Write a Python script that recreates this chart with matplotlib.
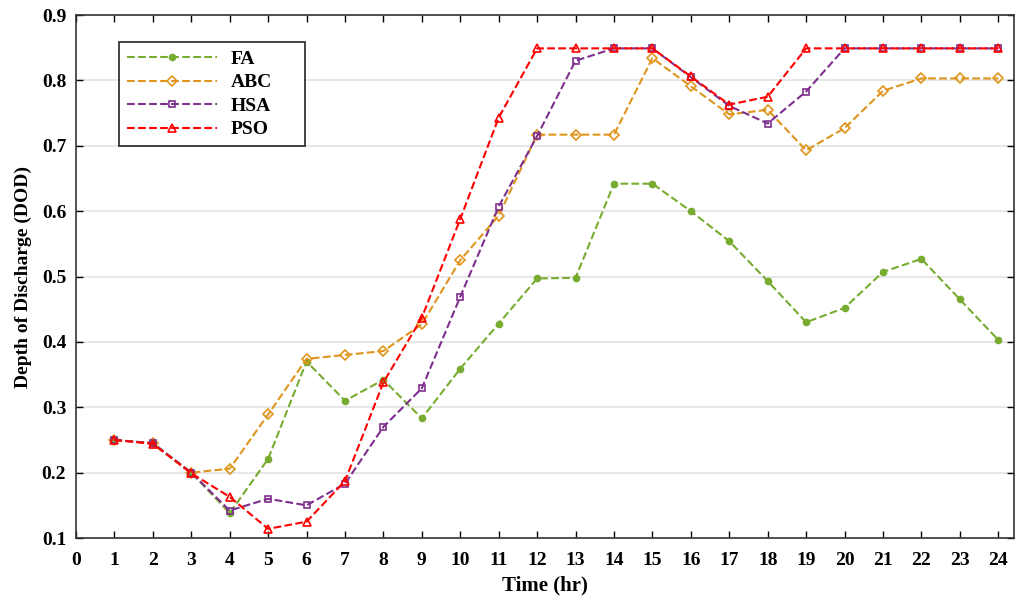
import numpy as np
import matplotlib
matplotlib.use("Agg")
import matplotlib.pyplot as plt

# hours 1..24
hours = list(range(1, 25))

fa = [0.250, 0.245, 0.200, 0.138, 0.221, 0.370, 0.310, 0.342, 0.283, 0.359,
      0.428, 0.497, 0.498, 0.642, 0.642, 0.600, 0.554, 0.493, 0.430, 0.452,
      0.507, 0.527, 0.465, 0.403]
abc = [0.250, 0.245, 0.200, 0.206, 0.289, 0.374, 0.380, 0.386, 0.427, 0.525,
       0.593, 0.717, 0.717, 0.717, 0.834, 0.791, 0.748, 0.755, 0.693, 0.727,
       0.784, 0.803, 0.803, 0.803]
hsa = [0.250, 0.245, 0.200, 0.142, 0.160, 0.150, 0.183, 0.270, 0.329, 0.469,
       0.607, 0.715, 0.830, 0.849, 0.849, 0.805, 0.761, 0.734, 0.783, 0.849,
       0.849, 0.849, 0.849, 0.849]
pso = [0.250, 0.244, 0.199, 0.163, 0.114, 0.125, 0.187, 0.338, 0.437, 0.588,
       0.743, 0.849, 0.849, 0.849, 0.849, 0.806, 0.763, 0.775, 0.849, 0.849,
       0.849, 0.849, 0.849, 0.849]

plt.rcParams['font.family'] = ['Liberation Serif', 'DejaVu Serif']
plt.rcParams['font.weight'] = 'bold'

fig = plt.figure(figsize=(10.17, 5.96), dpi=100)
ax = fig.add_axes([0.0747, 0.0973, 0.922, 0.8775])

ax.plot(hours, fa, '--', color='#77AC30', marker='o', markersize=4.5,
        markerfacecolor='#77AC30', lw=1.5, label='FA')
ax.plot(hours, abc, '--', color='#DF951C', marker='D', markersize=5,
        markerfacecolor='none', mew=1.2, lw=1.5, label='ABC')
ax.plot(hours, hsa, '--', color='#7E2F8E', marker='s', markersize=5,
        markerfacecolor='none', mew=1.2, lw=1.5, label='HSA')
ax.plot(hours, pso, '--', color='#FF0000', marker='^', markersize=6,
        markerfacecolor='none', mew=1.2, lw=1.5, label='PSO')

ax.set_xlim(0, 24.4)
ax.set_ylim(0.1, 0.9)
ax.set_xticks(range(0, 25))
ax.set_yticks(np.arange(0.1, 0.91, 0.1))
ax.set_yticklabels(['%.1f' % v for v in np.arange(0.1, 0.91, 0.1)])
ax.yaxis.grid(True, color='#e3e3e3', lw=1.2)
ax.set_axisbelow(True)
ax.tick_params(direction='in', top=True, right=True, length=5, width=1,
               labelsize=14)
ax.tick_params(axis='x', pad=10)
ax.tick_params(axis='y', pad=7)
for s in ax.spines.values():
    s.set_linewidth(1.2)
    s.set_color('#333333')

ax.set_xlabel('Time (hr)', fontsize=15, fontweight='bold', labelpad=5)
ax.set_ylabel('Depth of Discharge (DOD)', fontsize=14, fontweight='bold', labelpad=7)

# MATLAB-style legend box: wider than its contents
leg = ax.legend(loc='upper left', bbox_to_anchor=(0.046, 0.752, 0.198, 0.196),
                mode='expand', fontsize=14,
                handlelength=4.6, handletextpad=0.7, labelspacing=0.3,
                borderpad=0.42, borderaxespad=0, fancybox=False,
                edgecolor='#222222', framealpha=1)
leg.get_frame().set_linewidth(1.2)

fig.savefig('out.png', dpi=100)
